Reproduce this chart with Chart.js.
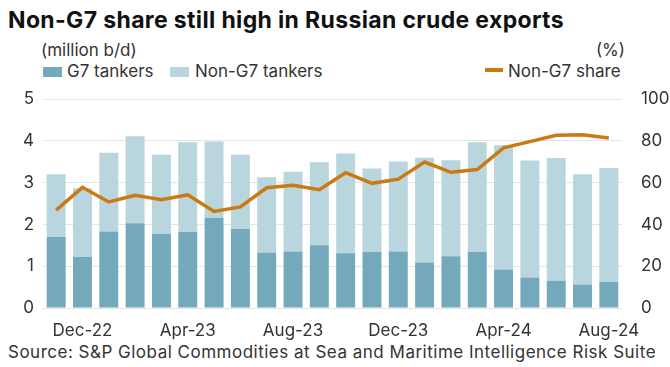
<!DOCTYPE html>
<html>
<head>
<meta charset="utf-8">
<script src="https://cdn.jsdelivr.net/npm/chart.js@4"></script>
<style>
  body { margin: 0; background: #fff; font-family: Inter, sans-serif; color: #333; }
  #wrap { position: relative; width: 670px; height: 367px; overflow: hidden; }
  #title { position: absolute; left: 8px; top: 6px; font-size: 23px; line-height: 28px; font-weight: 700; color: #111; letter-spacing: 0.35px; }
  .unit { position: absolute; top: 40px; font-size: 17px; line-height: 20px; color: #333; }
  .leg { position: absolute; top: 61px; font-size: 17px; line-height: 20px; color: #333; white-space: nowrap; }
  .sw { position: absolute; left: 0; top: 6px; width: 19px; height: 10px; }
  .ln { position: absolute; left: 0; top: 7px; width: 18px; height: 4px; }
  #source { position: absolute; left: 8px; top: 342px; font-size: 17px; line-height: 20px; color: #333; letter-spacing: 0.5px; }
  #chartbox { position: absolute; left: 0; top: 78px; width: 670px; height: 262px; }
</style>
</head>
<body>
<div id="wrap">
  <div id="title">Non-G7 share still high in Russian crude exports</div>
  <div class="unit" style="left:41px">(million b/d)</div>
  <div class="unit" style="right:45px">(%)</div>
  <div class="leg" style="left:43px; padding-left:24px"><span class="sw" style="background:#73a9bb"></span>G7 tankers</div>
  <div class="leg" style="left:170px; padding-left:25px"><span class="sw" style="background:#b9d5de"></span>Non-G7 tankers</div>
  <div class="leg" style="left:485px; padding-left:23px"><span class="ln" style="background:#c97a13"></span>Non-G7 share</div>
  <div id="chartbox"><canvas id="chart"></canvas></div>
  <div id="source">Source: S&amp;P Global Commodities at Sea and Maritime Intelligence Risk Suite</div>
</div>

<script>
// Russian crude exports by tanker type, Nov-22 to Aug-24

const months = ['Nov-22', 'Dec-22', 'Jan-23', 'Feb-23', 'Mar-23', 'Apr-23', 'May-23', 'Jun-23',
    'Jul-23', 'Aug-23', 'Sep-23', 'Oct-23', 'Nov-23', 'Dec-23', 'Jan-24', 'Feb-24',
    'Mar-24', 'Apr-24', 'May-24', 'Jun-24', 'Jul-24', 'Aug-24'];

// million b/d
const g7Tankers = [1.70, 1.22, 1.83, 2.03, 1.77, 1.82, 2.16, 1.89, 1.33, 1.35, 1.50,
    1.31, 1.34, 1.35, 1.09, 1.24, 1.34, 0.92, 0.73, 0.65, 0.56, 0.62];
const nonG7Tankers = [1.50, 1.65, 1.89, 2.08, 1.90, 2.15, 1.83, 1.78, 1.80, 1.91, 1.99,
    2.39, 2.00, 2.16, 2.51, 2.30, 2.63, 2.98, 2.80, 2.94, 2.64, 2.73];

// percent, right axis
const nonG7Share = [46.9, 57.8, 50.8, 54.0, 51.9, 54.2, 46.2, 48.4, 57.6, 58.8, 56.7,
    64.8, 59.7, 61.7, 69.9, 65.0, 66.3, 76.7, 79.7, 82.7, 83.0, 81.4];

// only every 4th month gets a label
const shownLabels = ['Dec-22', 'Apr-23', 'Aug-23', 'Dec-23', 'Apr-24', 'Aug-24'];

const leftTicks = [0, 1, 2, 3, 4, 5];
const rightTicks = [0, 20, 40, 60, 80, 100];

const COLOR_G7 = '#73a9bb';
const COLOR_NONG7 = '#b9d5de';
const COLOR_SHARE = '#c97a13';
const COLOR_GRID = '#e4e4e4';
const COLOR_TEXT = '#333333';

const tickFont = { family: 'Inter', size: 17 };

new Chart(document.getElementById('chart'), {
    data: {
        labels: months,
        datasets: [
            {
                type: 'line',
                label: 'Non-G7 share',
                data: nonG7Share,
                yAxisID: 'yRight',
                borderColor: COLOR_SHARE,
                borderWidth: 3.5,
                pointRadius: 0,
                tension: 0,
                order: 0
            },
            {
                type: 'bar',
                label: 'G7 tankers',
                data: g7Tankers,
                yAxisID: 'yLeft',
                backgroundColor: COLOR_G7,
                stack: 'exports',
                categoryPercentage: 1,
                barPercentage: 0.72,
                order: 1
            },
            {
                type: 'bar',
                label: 'Non-G7 tankers',
                data: nonG7Tankers,
                yAxisID: 'yLeft',
                backgroundColor: COLOR_NONG7,
                stack: 'exports',
                categoryPercentage: 1,
                barPercentage: 0.72,
                order: 1
            }
        ]
    },
    options: {
        responsive: true,
        maintainAspectRatio: false,
        animation: false,
        layout: { padding: { top: 9, left: 0, right: 0, bottom: 0 } },
        plugins: {
            legend: { display: false },
            tooltip: { enabled: false }
        },
        scales: {
            x: {
                stacked: true,
                grid: { display: false },
                border: { display: false },
                ticks: {
                    color: COLOR_TEXT,
                    font: tickFont,
                    maxRotation: 0,
                    autoSkip: false,
                    padding: 5,
                    callback: function(value, index) {
                        const name = months[index];
                        return shownLabels.indexOf(name) >= 0 ? name : '';
                    }
                },
                afterFit: function(axis) { axis.height = 32; }
            },
            yLeft: {
                position: 'left',
                stacked: true,
                min: 0,
                max: 5,
                grid: { color: COLOR_GRID, drawTicks: false, lineWidth: 1 },
                border: { display: false },
                afterBuildTicks: function(axis) {
                    axis.ticks = leftTicks.map(function(v) { return { value: v }; });
                },
                ticks: { color: COLOR_TEXT, font: tickFont, padding: 9 },
                afterFit: function(axis) { axis.width = 43; }
            },
            yRight: {
                position: 'right',
                min: 0,
                max: 100,
                grid: { display: false },
                border: { display: false },
                afterBuildTicks: function(axis) {
                    axis.ticks = rightTicks.map(function(v) { return { value: v }; });
                },
                ticks: { color: COLOR_TEXT, font: tickFont, padding: 11 },
                afterFit: function(axis) { axis.width = 48; }
            }
        }
    }
});
</script>
</body>
</html>
